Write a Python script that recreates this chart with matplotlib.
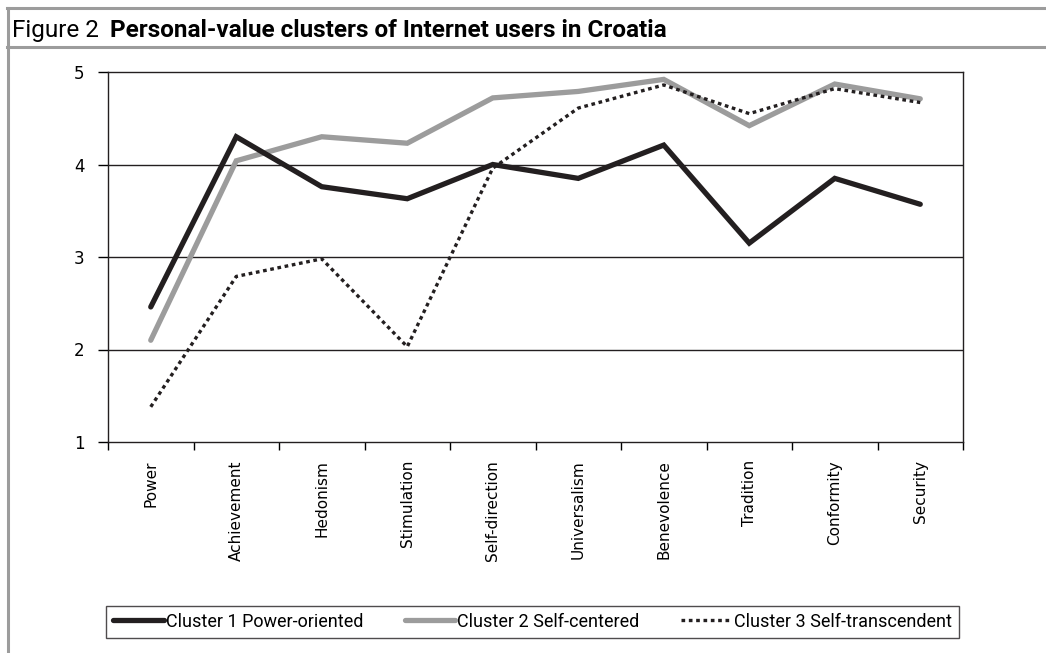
import numpy as np
import matplotlib
matplotlib.use('Agg')
import matplotlib.pyplot as plt
from matplotlib.lines import Line2D

# values
values = ['Power', 'Achievement', 'Hedonism', 'Stimulation', 'Self-direction',
          'Universalism', 'Benevolence', 'Tradition', 'Conformity', 'Security']
cluster1 = [2.46, 4.30, 3.76, 3.63, 4.00, 3.85, 4.21, 3.15, 3.85, 3.57]
cluster2 = [2.10, 4.04, 4.30, 4.23, 4.72, 4.79, 4.92, 4.42, 4.87, 4.71]
cluster3 = [1.38, 2.79, 2.98, 2.03, 3.96, 4.61, 4.86, 4.55, 4.82, 4.67]
series_names = ['Cluster 1 Power-oriented', 'Cluster 2 Self-centered',
                'Cluster 3 Self-transcendent']
yticks = [1, 2, 3, 4, 5]

HEAD = ['Roboto', 'DejaVu Sans']   # stands in for the Franklin Gothic look
W, H = 1046, 653

fig = plt.figure(figsize=(W / 100, H / 100), dpi=100)
ax = fig.add_axes([108 / W, 1 - 442 / H, 855 / W, 370 / H])

x = np.arange(len(values))
ax.plot(x, cluster1, color='#231f20', lw=3.8, solid_joinstyle='miter',
        solid_capstyle='round', label=series_names[0], zorder=4)
ax.plot(x, cluster2, color='#9c9c9c', lw=3.8, solid_joinstyle='miter',
        solid_capstyle='round', label=series_names[1], zorder=3)
ax.plot(x, cluster3, color='#231f20', lw=2.4, ls=(0, (1.1, 1.1)),
        label=series_names[2], zorder=5)

ax.set_xlim(-0.5, len(values) - 0.5)
ax.set_ylim(1, 5)
ax.set_yticks(yticks)
ax.set_yticklabels([str(v) for v in yticks], fontsize=12)
for v in yticks[1:-1]:
    ax.axhline(v, color='#231f20', lw=1.0, zorder=1)

ax.set_xticks(x)
ax.set_xticklabels(values, rotation=90, fontsize=11, va='top')
ax.set_xticks(np.arange(-0.5, len(values)), minor=True)
ax.tick_params(axis='x', which='major', length=0, pad=13)
ax.tick_params(axis='x', which='minor', length=6, width=1, direction='out')
ax.tick_params(axis='y', length=7, width=1, direction='out', pad=10)
for s in ax.spines.values():
    s.set_linewidth(1.0)
    s.set_color('#231f20')

# outer frame of the figure box
grey = '#9c9c9c'
fig.add_artist(Line2D([7 / W, 1], [1 - 8 / H, 1 - 8 / H], color=grey, lw=2.2))
fig.add_artist(Line2D([7 / W, 1], [1 - 47 / H, 1 - 47 / H], color=grey, lw=2.2))
fig.add_artist(Line2D([8 / W, 8 / W], [0, 1 - 8 / H], color=grey, lw=2.2))

# title: "Figure 2" regular, rest bold
t1 = fig.text(12 / W, 1 - 37 / H, 'Figure 2', family=HEAD, fontsize=17.5,
              va='baseline', ha='left')
fig.canvas.draw()
bb = t1.get_window_extent()
fig.text((bb.x1 + 11) / W, 1 - 37 / H,
         'Personal-value clusters of Internet users in Croatia',
         family=HEAD, fontsize=17.5, weight='bold', va='baseline', ha='left')

leg = fig.legend(loc='lower left', bbox_to_anchor=(106 / W, 1 - 638 / H, 853 / W, 47 / H),
                 ncol=3, mode='expand', frameon=True, fancybox=False,
                 handlelength=2.8, handletextpad=0.1, borderaxespad=0,
                 prop={'family': HEAD, 'size': 13})
leg.get_frame().set_edgecolor('#231f20')
leg.get_frame().set_linewidth(1.0)

fig.savefig('out.png', dpi=100)
